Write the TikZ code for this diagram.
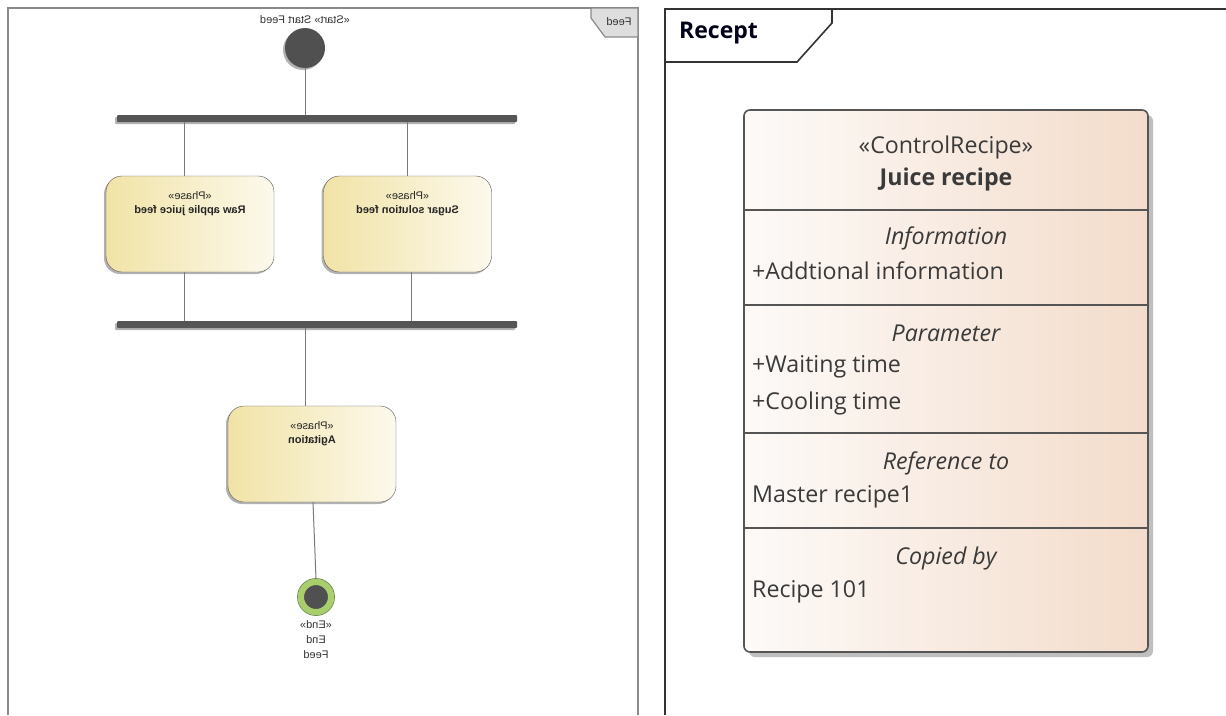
\documentclass[tikz,border=0pt]{standalone}
\usepackage{fontspec}
\setmainfont{Liberation Sans}
\newfontfamily\uifont{Open Sans}
\usepackage{tikz}
\usetikzlibrary{
  positioning,
  calc,
  shadows
}
\definecolor{fdLine}{HTML}{7A7A7A}
\definecolor{fdBar}{HTML}{555555}
\definecolor{fdDark}{HTML}{505050}
\definecolor{fdFrame}{HTML}{8A8A8A}
\definecolor{fdTag}{HTML}{DEDEDE}
\definecolor{fdPhaseL}{HTML}{F1E3A6}
\definecolor{fdPhaseR}{HTML}{FCF9EC}
\definecolor{fdEnd}{HTML}{A8CF6C}
\definecolor{fdEndRim}{HTML}{6E8F45}
\definecolor{rcLeft}{HTML}{FDFAF8}
\definecolor{rcMid}{HTML}{FAF1EA}
\definecolor{rcRight}{HTML}{F3DCCB}
\definecolor{rcText}{HTML}{3A3A3A}
\newcommand{\phasetext}[1]{\parbox[c][64pt][t]{160pt}{\centering «Phase»\\\textbf{#1}}}
\tikzset{
  fdtext/.style={font=\fontsize{11}{15}\selectfont, text=black!80, inner sep=0pt, xscale=-1},
  softshadow/.style={drop shadow={shadow xshift=-2pt, shadow yshift=-2pt, opacity=0.3, fill=black}},
  bar/.style={fill=fdBar, rounded corners=1pt, minimum width=400pt, minimum height=7pt,
    inner sep=0pt, xscale=-1, softshadow},
  startnode/.style={circle, fill=fdDark, minimum size=40pt, inner sep=0pt, xscale=-1, softshadow},
  endnode/.style={circle, fill=fdDark, draw=fdEnd, line width=6pt, minimum size=30pt, inner sep=0pt},
  phase/.style={draw=fdBar, rounded corners=16pt, minimum width=168pt, minimum height=96pt,
    inner sep=0pt, left color=fdPhaseL, right color=fdPhaseR, xscale=-1,
    font=\fontsize{11}{14}\selectfont, text=black!85, softshadow},
  flowline/.style={draw=fdLine, line width=1pt},
  fdframe/.style={draw=fdFrame, line width=1.2pt},
  rcframe/.style={draw=black!80, line width=1.6pt},
  classbox/.style={draw=fdBar, line width=1.6pt, rounded corners=6pt, minimum width=404pt,
    minimum height=542pt, inner sep=0pt, left color=rcLeft, middle color=rcMid, right color=rcRight,
    drop shadow={shadow xshift=5pt, shadow yshift=-5pt, opacity=0.25, fill=black}},
  rcline/.style={draw=fdBar, line width=1.4pt},
  rctext/.style={font=\uifont\fontsize{23.2}{28}\selectfont, text=rcText, inner sep=0pt},
  rctitle/.style={rctext, font=\uifont\fontsize{23.2}{28}\selectfont\itshape},
  rcitem/.style={rctext, anchor=west}
}
\begin{document}
\begin{tikzpicture}[x=1pt, y=-1pt, node distance=4pt]
  \useasboundingbox (0,0) rectangle (1226,715);
  \fill[white] (0,0) rectangle (1226,715);

  \draw[fdframe] (8,715) -- (8,8) -- (638,8) -- (638,715);
  \draw[fdframe, fill=fdTag] (591,8) -- (591,18) -- (605,37) -- (638,37) -- (638,8) -- cycle;
  \node[fdtext] (feedtag) at (619,22) {Feed};

  \node[fdtext] (startlbl) at (305,20) {«Start» Start Feed};
  \node[startnode] (start) at (305,48) {};
  \node[bar] (fork) at (317,118.5) {};
  \node[phase] (raw) at (190,224) {\phasetext{Raw applie juice feed}};
  \node[phase] (sugar) at (407.5,224) {\phasetext{Sugar solution feed}};
  \node[bar] (join) at (317,324.5) {};
  \node[phase] (agit) at (312,454) {\phasetext{Agitation}};
  \node[endnode] (end) at (316,597) {};
  \draw[fdEndRim, line width=0.8pt] (end.center) circle (18.5pt);
  \node[fdtext, align=center, below=5pt of end] (endlbl) {«End»\\End\\Feed};

  \draw[flowline] (start.south) -- (start |- fork.north);
  \draw[flowline] ([xshift=-6pt]raw.north |- fork.south) -- ([xshift=-6pt]raw.north);
  \draw[flowline] (sugar.north |- fork.south) -- (sugar.north);
  \draw[flowline] ([xshift=-6pt]raw.south) -- ([xshift=-6pt]raw.south |- join.north);
  \draw[flowline] ([xshift=4pt]sugar.south) -- ([xshift=4pt]sugar.south |- join.north);
  \draw[flowline] (start |- join.south) -- (start |- agit.north);
  \draw[flowline] ([xshift=1pt]agit.south) -- (end.north);

  \draw[rcframe] (665,715) -- (665,9) -- (1226,9);
  \draw[rcframe] (832,9) -- (832,23) -- (797,62) -- (665,62);
  \node[rctext, anchor=west, font=\uifont\fontsize{23}{28}\selectfont\bfseries, text=black!90!blue] (recept) at (679,33) {Recept};

  \node[classbox] (recipe) at (946,381) {};
  \foreach \y in {210,305,433,528}
    \draw[rcline] (recipe.west |- 0,\y) -- (recipe.east |- 0,\y);

  \node[rctext] (stereo) at (946,147) {«ControlRecipe»};
  \node[rctext, font=\uifont\fontsize{23.2}{28}\selectfont\bfseries] (rname) at (946,179) {Juice recipe};
  \node[rctitle] (tinfo) at (946,238) {Information};
  \node[rcitem] (iinfo) at (752,271) {+Addtional information};
  \node[rctitle] (tparam) at (946,333) {Parameter};
  \node[rcitem] (iwait) at (752,367) {+Waiting time};
  \node[rcitem] (icool) at (752,403) {+Cooling time};
  \node[rctitle] (tref) at (946,463) {Reference to};
  \node[rcitem] (iref) at (752,497) {Master recipe1};
  \node[rctitle] (tcopy) at (946,558) {Copied by};
  \node[rcitem] (icopy) at (752,592) {Recipe 101};
\end{tikzpicture}
\end{document}
